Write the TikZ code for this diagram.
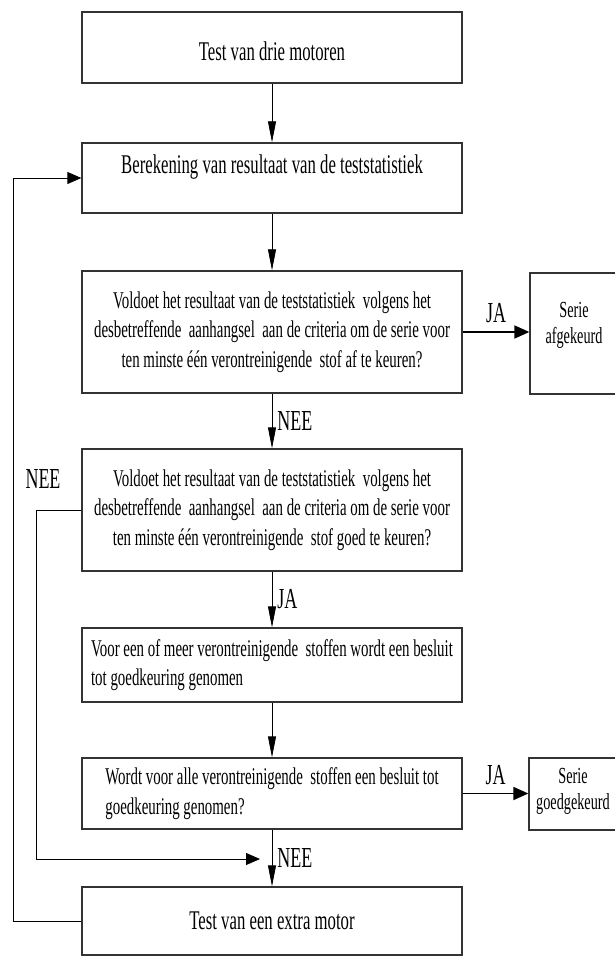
\documentclass[tikz,border=0pt]{standalone}
\usepackage{fontspec}
\setmainfont{Liberation Serif}[FakeStretch=0.62]
\usetikzlibrary{positioning,arrows.meta}

\begin{document}
\begin{tikzpicture}[x=1pt, y=-1pt,
    box/.style={draw=black!80, line width=1.3pt, minimum width=380pt, inner sep=4pt,
      font=\fontsize{24}{29.5}\selectfont, align=center},
    titel/.style={box, font=\fontsize{27}{32}\selectfont},
    serie/.style={draw=black!80, line width=1.3pt, minimum width=88pt, inner sep=2pt,
      font=\fontsize{23}{26}\selectfont, align=center},
    lbl/.style={font=\fontsize{29}{32}\selectfont, inner sep=2pt},
    pijl/.style={line width=0.8pt, -{Triangle[length=21pt,width=8pt]}},
    ja/.style={line width=1.8pt, -{Triangle[length=15pt,width=13pt]}},
    terug/.style={line width=0.8pt, -{Triangle[length=14pt,width=12pt]}}]
  \useasboundingbox (0,0) rectangle (614,957);

  \node[titel, minimum height=71pt, text height=27pt, text depth=0pt] (b1) at (272,47.5) {Test van drie motoren};
  \node[titel, minimum height=70pt, text height=18pt, text depth=26pt] (b2) at (272,178) {Berekening van resultaat van de teststatistiek};
  \node[box, minimum height=122pt] (b3) at (272,332) {Voldoet het resultaat van de teststatistiek~ volgens het\\
    desbetreffende~ aanhangsel~ aan de criteria om de serie voor\\
    ten minste één verontreinigende~ stof af te keuren?};
  \node[box, minimum height=122pt] (b4) at (272,510) {Voldoet het resultaat van de teststatistiek~ volgens het\\
    desbetreffende~ aanhangsel~ aan de criteria om de serie voor\\
    ten minste één verontreinigende~ stof goed te keuren?};
  \node[box, minimum height=74pt, align=left] (b5) at (272,665) {Voor een of meer verontreinigende~ stoffen wordt een besluit\\
    tot goedkeuring genomen};
  \node[box, minimum height=71pt, align=left] (b6) at (272,793.5) {Wordt voor alle verontreinigende~ stoffen een besluit tot\\
    goedkeuring genomen?};
  \node[titel, minimum height=68pt] (b7) at (272,921) {Test van een extra motor};

  \node[serie, minimum height=121pt] (s1) at (574,333.5) {Serie\\afgekeurd\\[-4pt]\mbox{}};
  \node[serie, minimum height=72pt] (s2) at (573,794) {Serie\\goedgekeurd\\[-16pt]\mbox{}};

  \draw[pijl] (b1) -- (b2);
  \draw[pijl] (b2) -- (b3);
  \draw[pijl] (b3) -- node[lbl, right, xshift=3pt] (nee1) {NEE} (b4);
  \draw[pijl] (b4) -- node[lbl, right, xshift=3pt] (ja2) {JA} (b5);
  \draw[pijl] (b5) -- (b6);
  \draw[pijl] (b6) -- node[lbl, right, xshift=3pt] (nee3) {NEE} (b7);

  \draw[ja] (b3.east) -- node[lbl, above=6pt] (ja1) {JA} (b3.east -| s1.west);
  \draw[ja] (b6.east) -- node[lbl, above=6pt] (ja3) {JA} (b6.east -| s2.west);

  % terugkoppelingen
  \node[lbl] (nee2) at (43,479) {NEE};
  \coordinate (terug1) at (260,859);
  \draw[terug] (b4.west) -- ++(-45,0) |- (terug1);
  \draw[terug] (b7.west) -- ++(-68,0) |- (b2.west);
\end{tikzpicture}
\end{document}
